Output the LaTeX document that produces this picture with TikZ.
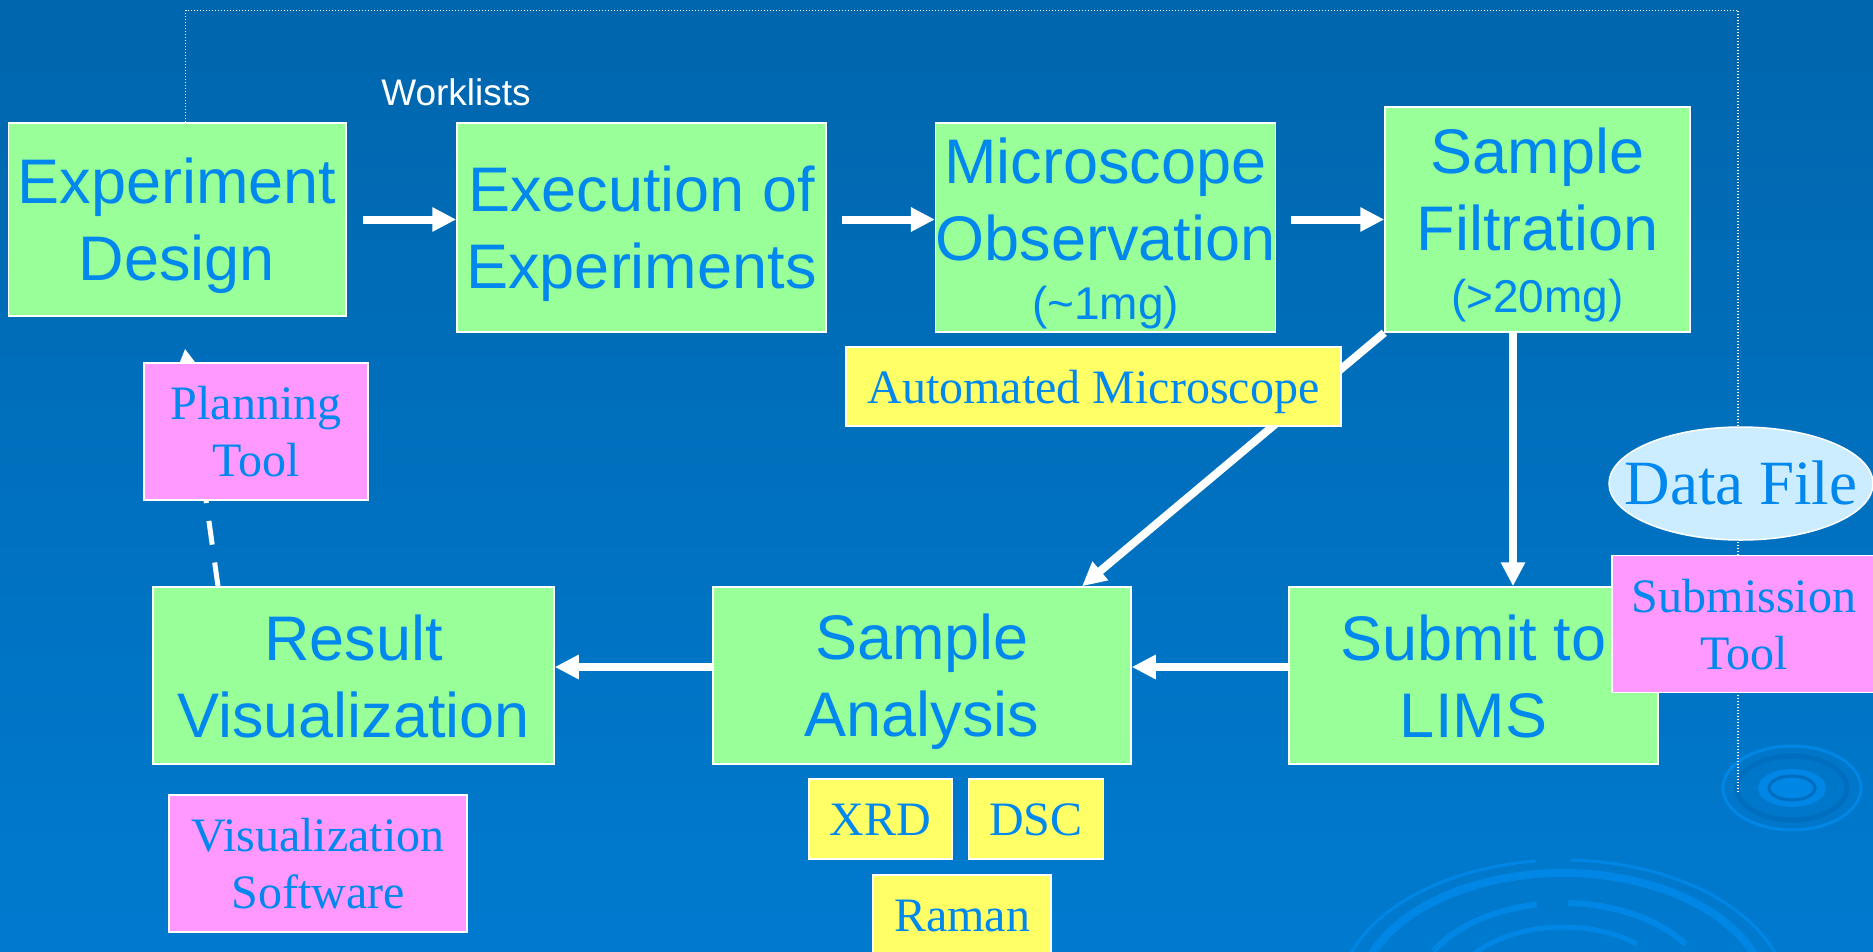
\documentclass[tikz,border=0pt]{standalone}
\usepackage{fontspec}
\setmainfont{Liberation Sans}
\newfontfamily\timesfont{Liberation Serif}
\usetikzlibrary{arrows.meta,shapes.geometric,calc}

\definecolor{bgtop}{RGB}{0,102,173}
\definecolor{bgmid}{RGB}{0,108,184}
\definecolor{bgbot}{RGB}{0,122,207}
\definecolor{boxgreen}{RGB}{153,255,153}
\definecolor{boxyellow}{RGB}{255,255,102}
\definecolor{boxpink}{RGB}{255,153,255}
\definecolor{fileblue}{RGB}{204,236,255}
\definecolor{txtblue}{RGB}{0,136,238}
\definecolor{ripplecol}{RGB}{0,134,228}
\definecolor{ripdark}{RGB}{0,110,190}

% line struts, so that every line box has the same height and depth
\newcommand\sstrut{\rule[-11pt]{0pt}{69pt}}
\newcommand\tstrut{\rule[-10pt]{0pt}{53pt}}

\tikzset{
  greenbox/.style={draw=white, line width=1.5pt, fill=boxgreen, text=txtblue,
    inner sep=0pt, align=center, font=\fontsize{63}{77}\selectfont},
  pinkbox/.style={draw=white, line width=1.5pt, fill=boxpink, text=txtblue,
    inner sep=0pt, align=center, font=\timesfont\fontsize{48}{57}\selectfont},
  yellowbox/.style={draw=white, line width=1.5pt, fill=boxyellow, text=txtblue,
    inner sep=0pt, text height=43pt, text depth=10pt,
    font=\timesfont\fontsize{48}{57}\selectfont},
  fileball/.style={ellipse, draw=white, line width=1.5pt, fill=fileblue, text=txtblue,
    inner sep=0pt, text height=56pt, text depth=14pt,
    font=\timesfont\fontsize{63}{75}\selectfont},
  worklabel/.style={text=white, inner sep=0pt, anchor=base,
    font=\fontsize{37}{44}\selectfont},
  arr/.style={draw=white, line width=8pt, -{Triangle[length=24pt,width=23pt]}},
  dashedarr/.style={draw=white, line width=5pt, dash pattern=on 24pt off 18pt,
    -{Triangle[length=22pt,width=23pt]}},
  dotline/.style={draw=white, line width=1.5pt, dash pattern=on 1.5pt off 1.5pt},
  ripple/.style={draw=ripplecol, line cap=butt}
}

\begin{document}
\begin{tikzpicture}[x=1pt, y=-1pt]
  \clip (0,0) rectangle (1873,951);
  \shade[top color=bgtop, middle color=bgmid, bottom color=bgbot] (0,0) rectangle (1873,951);

  % ripples of the background
  \coordinate (rip) at (1563,1000);
  \draw[ripple, line width=3pt] ($(rip)+(168:225pt and 140pt)$)
    arc[start angle=168, end angle=97, x radius=225pt, y radius=140pt];
  \draw[ripple, line width=3pt] ($(rip)+(88:225pt and 140pt)$)
    arc[start angle=88, end angle=15, x radius=225pt, y radius=140pt];
  \draw[ripple, line width=8pt] ($(rip)+(170:205pt and 127pt)$)
    arc[start angle=170, end angle=12, x radius=205pt, y radius=127pt];
  \draw[ripple, line width=6pt] ($(rip)+(150:150pt and 97pt)$)
    arc[start angle=150, end angle=100, x radius=150pt, y radius=97pt];
  \draw[ripple, line width=6pt] ($(rip)+(88:150pt and 97pt)$)
    arc[start angle=88, end angle=35, x radius=150pt, y radius=97pt];
  \draw[ripple, line width=5pt] ($(rip)+(140:115pt and 73pt)$)
    arc[start angle=140, end angle=50, x radius=115pt, y radius=73pt];
  \coordinate (rip2) at (1792,788);
  \draw[ripple, line width=3pt] (rip2) ellipse[x radius=69pt, y radius=42pt];
  \draw[draw=ripdark, line width=5pt] (rip2) ellipse[x radius=55pt, y radius=32pt];
  \fill[ripplecol] (rip2) ellipse[x radius=34pt, y radius=19pt];
  \draw[draw=ripdark, line width=3pt] (rip2) ellipse[x radius=23pt, y radius=12pt];

  \draw
    (177,219.5) node[greenbox, minimum width=337.5pt, minimum height=193pt] (design)
      {\sstrut Experiment\\Design\sstrut}
    (641.5,227.5) node[greenbox, minimum width=369pt, minimum height=209pt] (exec)
      {\sstrut Execution of\\Experiments\sstrut}
    (1105.5,227.5) node[greenbox, minimum width=337pt, minimum height=209pt] (micro)
      {\sstrut Microscope\\Observation\\[-18pt]{\fontsize{46}{46}\selectfont(\textasciitilde1mg)}\sstrut}
    (1537.5,219.5) node[greenbox, minimum width=305pt, minimum height=225pt] (filt)
      {\sstrut Sample\\Filtration\\[-15pt]{\fontsize{46}{46}\selectfont(>20mg)}\sstrut}
    (353.5,675.5) node[greenbox, minimum width=401pt, minimum height=177pt] (result)
      {\sstrut Result\\Visualization\sstrut}
    (922,675.5) node[greenbox, minimum width=418pt, minimum height=177pt] (anal)
      {\sstrut Sample\\Analysis\sstrut}
    (1473.5,675.5) node[greenbox, minimum width=369pt, minimum height=177pt] (lims)
      {\sstrut Submit to\\LIMS\sstrut};

  \begin{scope}[arr]
    \draw ([xshift=16pt]design.east) to (design.east -| exec.west);
    \draw ($(exec.east |- design.east)+(15,0)$) to (micro.west |- design.east);
    \draw ($(micro.east |- design.east)+(15,0)$) to (filt.west);
    \draw ([xshift=-24.5pt]filt.south) coordinate (fs) to (fs |- lims.north);
    \draw (filt.south west) to ([xshift=160pt]anal.north);
    \draw ([yshift=8.5pt]lims.west) to ([yshift=8.5pt]anal.east);
    \draw ([yshift=8.5pt]anal.west) to ([yshift=8.5pt]result.east);
  \end{scope}
  \draw[dashedarr] ([xshift=-135.5pt]result.north) to ([xshift=8pt,yshift=-32pt]design.south);

  % worklist loop back from the design
  \coordinate (dotend) at (1738,793);
  \draw[dotline] ([xshift=8.5pt]design.north) -- ++(0,-112) -| (dotend);

  \draw
    (456,105) node[worklabel] (work) {Worklists}
    (1093.5,386.5) node[yellowbox, minimum width=495pt, minimum height=79pt] (autom)
      {Automated Microscope}
    (880.5,819) node[yellowbox, minimum width=143pt, minimum height=80pt] (xrd) {XRD}
    (1036,819) node[yellowbox, minimum width=135pt, minimum height=80pt] (dsc) {DSC}
    (962,915) node[yellowbox, minimum width=178pt, minimum height=80pt] (raman) {Raman}
    (256,431.5) node[pinkbox, minimum width=224pt, minimum height=137pt] (plan)
      {\tstrut Planning\\Tool\tstrut}
    (318,863.5) node[pinkbox, minimum width=298pt, minimum height=137pt] (vis)
      {\tstrut Visualization\\Software\tstrut}
    (1741,483.5) node[fileball, minimum width=264pt, minimum height=113pt] (datafile)
      {\makebox[150pt]{Data File}}
    (1744,624) node[pinkbox, minimum width=264pt, minimum height=137pt] (submit)
      {\tstrut Submission\\Tool\tstrut};
\end{tikzpicture}
\end{document}
